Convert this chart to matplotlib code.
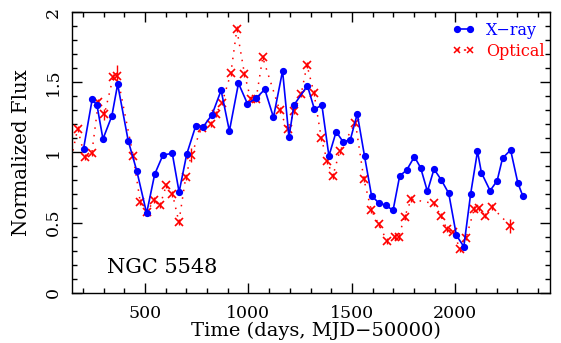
import matplotlib
matplotlib.use("Agg")
import matplotlib.pyplot as plt
from matplotlib.ticker import MultipleLocator
from matplotlib.lines import Line2D

# X-ray light curve
xray_t = [203, 245, 268, 297, 340, 368, 419, 461, 508, 547, 587, 632, 665, 702,
          746, 782, 824, 868, 908, 952, 995, 1037, 1079, 1121, 1165, 1196, 1220,
          1285, 1319, 1355, 1389, 1424, 1457, 1492, 1526, 1561, 1595, 1629, 1663,
          1699, 1731, 1765, 1802, 1832, 1865, 1897, 1933, 1968, 2005, 2041, 2074,
          2107, 2126, 2168, 2202, 2228, 2267, 2302, 2326]
xray_f = [1.024, 1.378, 1.337, 1.095, 1.259, 1.485, 1.083, 0.865, 0.566, 0.844,
          0.981, 0.993, 0.717, 0.988, 1.191, 1.183, 1.268, 1.442, 1.152, 1.492,
          1.347, 1.385, 1.449, 1.250, 1.580, 1.109, 1.337, 1.475, 1.307, 1.337,
          0.974, 1.147, 1.076, 1.088, 1.273, 0.974, 0.691, 0.641, 0.623, 0.587,
          0.832, 0.874, 0.969, 0.891, 0.722, 0.881, 0.801, 0.708, 0.409, 0.328,
          0.705, 1.007, 0.855, 0.727, 0.798, 0.958, 1.017, 0.782, 0.689]

# Optical light curve
opt_t = [120, 175, 209, 243, 275, 304, 346, 367, 443, 477, 511, 544, 573, 603, 633,
         664, 697, 724, 774, 817, 842, 873, 915, 944, 981, 1011, 1037, 1069,
         1151, 1189, 1222, 1255, 1283, 1317, 1352, 1381, 1408, 1441, 1517,
         1558, 1593, 1630, 1670, 1707, 1726, 1755, 1787, 1895, 1930, 1958,
         1989, 2024, 2052, 2091, 2116, 2142, 2176, 2265]
opt_f = [0.80, 1.168, 0.967, 0.993, 1.359, 1.270, 1.535, 1.542, 0.974, 0.648, 0.577,
         0.660, 0.623, 0.765, 0.703, 0.504, 0.822, 0.981, 1.177, 1.202, 1.272,
         1.354, 1.563, 1.877, 1.557, 1.378, 1.380, 1.676, 1.300, 1.164, 1.295,
         1.416, 1.622, 1.421, 1.100, 0.936, 0.831, 1.007, 1.211, 0.808, 0.591,
         0.487, 0.368, 0.395, 0.399, 0.541, 0.666, 0.636, 0.550, 0.456, 0.430,
         0.309, 0.392, 0.595, 0.601, 0.550, 0.611, 0.477]
opt_err = [0.02, 0.02, 0.02, 0.02, 0.02, 0.04, 0.02, 0.08, 0.02, 0.02, 0.02,
           0.02, 0.02, 0.02, 0.02, 0.02, 0.02, 0.05, 0.02, 0.02, 0.02,
           0.02, 0.02, 0.02, 0.02, 0.02, 0.02, 0.02, 0.02, 0.02, 0.02,
           0.02, 0.02, 0.02, 0.02, 0.02, 0.02, 0.02, 0.02, 0.02, 0.02,
           0.02, 0.02, 0.02, 0.02, 0.02, 0.02, 0.02, 0.02, 0.02, 0.02,
           0.02, 0.02, 0.02, 0.02, 0.02, 0.02, 0.05]

FONT = "DejaVu Serif"
plt.rcParams['font.family'] = FONT

W, H = 561, 343
fig = plt.figure(figsize=(W / 100, H / 100), dpi=100)
ax = fig.add_axes([71.5 / W, (H - 292.7) / H, (549.5 - 71.5) / W, (292.7 - 12) / H])

blue = (0, 0, 1)
red = (1, 0, 0)

ax.errorbar(opt_t, opt_f, yerr=opt_err, fmt='none', ecolor=red, elinewidth=1,
            capsize=0, zorder=2)
ax.plot(opt_t, opt_f, color=red, ls=(0, (1, 4)), lw=1.1, marker='x',
        ms=5.5, mew=1.2, zorder=2)
ax.plot(xray_t, xray_f, color=blue, lw=1.2, marker='o', ms=4.2, zorder=3)

ax.set_xlim(145, 2455)
ax.set_ylim(0, 2)
ax.xaxis.set_major_locator(MultipleLocator(500))
ax.xaxis.set_minor_locator(MultipleLocator(100))
ax.yaxis.set_major_locator(MultipleLocator(0.5))
ax.yaxis.set_minor_locator(MultipleLocator(0.1))
ax.yaxis.set_major_formatter(plt.FuncFormatter(lambda v, p: f"{v:g}"))
ax.tick_params(which='both', direction='in', top=True, right=True, width=1,
               labelsize=12.5)
ax.tick_params(which='major', length=7)
ax.tick_params(which='minor', length=3.5)
ax.tick_params(axis='x', pad=8.5)
ax.tick_params(axis='y', pad=7)
plt.setp(ax.get_yticklabels(), rotation=90, va='center')
for s in ax.spines.values():
    s.set_linewidth(1)

ax.set_xlabel("Time (days, MJD\u221250000)", fontsize=14, va='top')
ax.xaxis.set_label_coords((316 - 71.5) / 478, -(321.5 - 292.7) / (292.7 - 12))
ax.set_ylabel("Normalized Flux", fontsize=14.2, labelpad=10)

ax.text(316, 0.14, "NGC 5548", fontsize=15, ha='left', va='baseline')

h1 = Line2D([], [], color=blue, lw=1.2, marker='o', ms=4.2)
h2 = Line2D([], [], color=red, lw=1.1, ls=(0, (1.5, 3)), marker='x', ms=5, mew=1.1)
ax.legend([h1, h2], ["X\u2212ray", "Optical"], loc='upper left',
          bbox_to_anchor=(452 / W, (H - 22) / H), bbox_transform=fig.transFigure,
          frameon=False, numpoints=2, handlelength=1.4, handletextpad=0.75,
          labelspacing=0.25, fontsize=11.5, labelcolor=[blue, red],
          borderaxespad=0, borderpad=0)

fig.savefig("out.png", dpi=100)
